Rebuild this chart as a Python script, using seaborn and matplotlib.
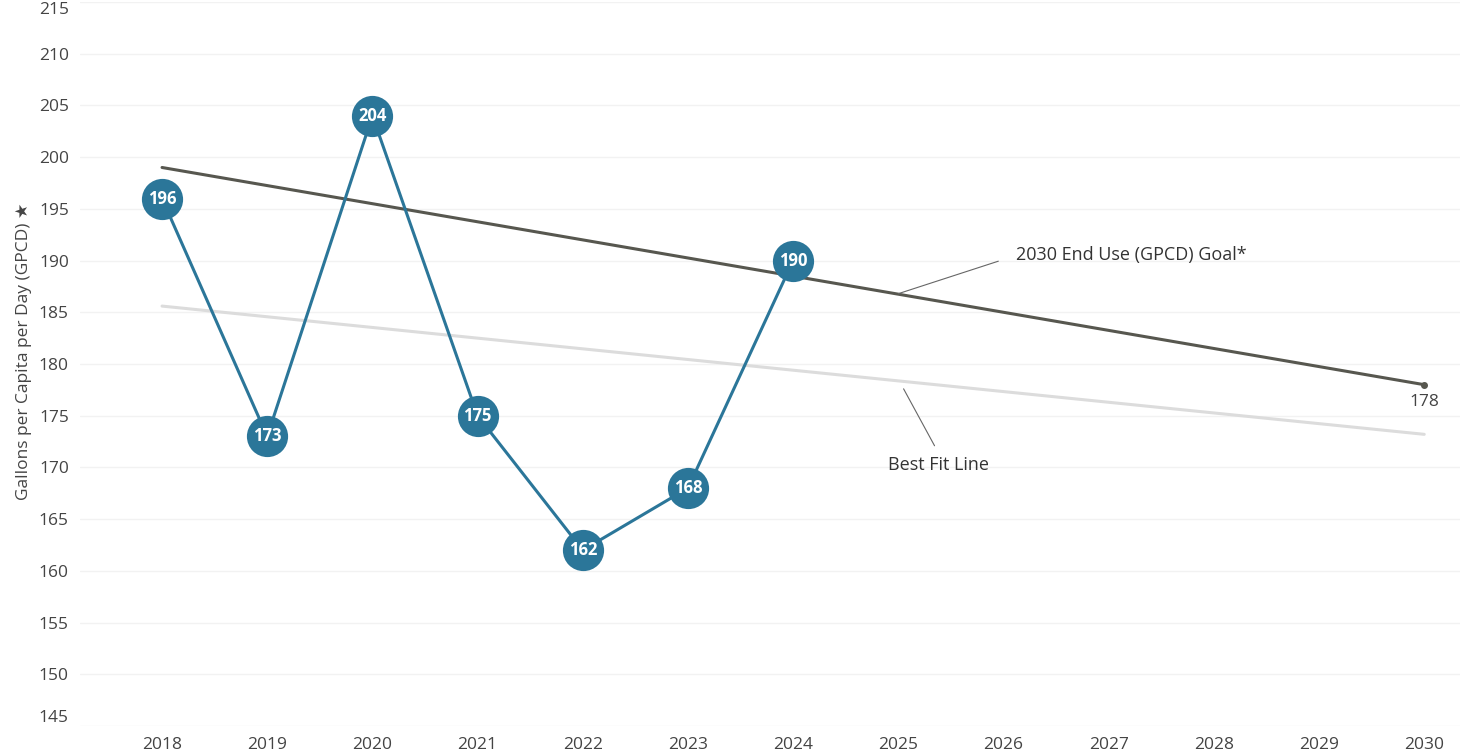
import matplotlib
matplotlib.use("Agg")
import matplotlib.pyplot as plt
import seaborn as sns
import pandas as pd

# ---- data ----
years = [2018, 2019, 2020, 2021, 2022, 2023, 2024]
gpcd = [196, 173, 204, 175, 162, 168, 190]
goal_years = [2018, 2030]
goal_vals = [199, 178]
fit_years = [2018, 2030]
fit_vals = [185.6, 173.2]
x_ticks = list(range(2018, 2031))
y_ticks = list(range(145, 216, 5))
y_label = "Gallons per Capita per Day (GPCD) \u2605"
goal_label = "2030 End Use (GPCD) Goal*"
fit_label = "Best Fit Line"

sns.set_theme(style="white")
plt.rcParams['font.family'] = ['Open Sans', 'DejaVu Sans']

fig = plt.figure(figsize=(14.6, 7.56), dpi=100)
ax = fig.add_axes([80 / 1460, 30 / 756, 1380 / 1460, 724 / 756])

df = pd.DataFrame({"year": years, "gpcd": gpcd})
goal_df = pd.DataFrame({"year": goal_years, "val": goal_vals})
fit_df = pd.DataFrame({"year": fit_years, "val": fit_vals})

blue = "#2b7699"
sns.lineplot(data=fit_df, x="year", y="val", ax=ax, color="#dcdcdc", lw=2.2, zorder=2)
sns.lineplot(data=goal_df, x="year", y="val", ax=ax, color="#57574f", lw=2.2, zorder=3)
ax.plot(goal_years[-1], goal_vals[-1], "o", color="#57574f", ms=4, zorder=4)
sns.lineplot(data=df, x="year", y="gpcd", ax=ax, color=blue, lw=2.2, zorder=5)
sns.scatterplot(data=df, x="year", y="gpcd", ax=ax, color=blue, s=880, edgecolor="white",
                linewidth=0, zorder=6)
for x, y in zip(years, gpcd):
    ax.text(x, y, str(y), ha="center", va="center", color="white", fontsize=12,
            fontweight="bold", zorder=7)

ax.text(goal_years[-1], goal_vals[-1] - 0.9, str(goal_vals[-1]), ha="center", va="top",
        fontsize=12.5, color="#444444")

# annotations with leader lines
ax.annotate(goal_label, xy=(2025.0, 186.8), xytext=(2026.12, 190.5),
            fontsize=13, color="#333333", ha="left", va="center",
            arrowprops=dict(arrowstyle="-", color="#666666", lw=0.8, shrinkA=11, shrinkB=0,
                            relpos=(0, 0.5)))
ax.annotate(fit_label, xy=(2025.05, 177.6), xytext=(2025.38, 170.2),
            fontsize=13, color="#333333", ha="center", va="center",
            arrowprops=dict(arrowstyle="-", color="#666666", lw=0.8, shrinkA=6, shrinkB=0,
                            relpos=(0.52, 1.0)))

ax.set_xlim(2017.22, 2030.34)
ax.set_ylim(145, 215)
ax.set_xticks(x_ticks)
ax.set_xticklabels([str(t) for t in x_ticks])
ax.set_yticks(y_ticks)
ax.set_yticklabels([str(t) for t in y_ticks])
ax.tick_params(axis="both", length=0, labelsize=12.5, labelcolor="#444444")
ax.tick_params(axis="x", pad=8)
ax.tick_params(axis="y", pad=8)
for lab in ax.get_yticklabels():
    if lab.get_text() == "215":
        lab.set_va("top")
    elif lab.get_text() == "145":
        lab.set_va("bottom")
ax.yaxis.grid(True, color="#f2f2f2", lw=1)
ax.set_axisbelow(True)
for s in ax.spines.values():
    s.set_visible(False)
ax.set_xlabel("")
ax.set_ylabel(y_label, fontsize=12.5, color="#444444")
ax.yaxis.set_label_coords((32 - 80) / 1380, 0.517)

fig.savefig("out.png", dpi=100, facecolor="white")
